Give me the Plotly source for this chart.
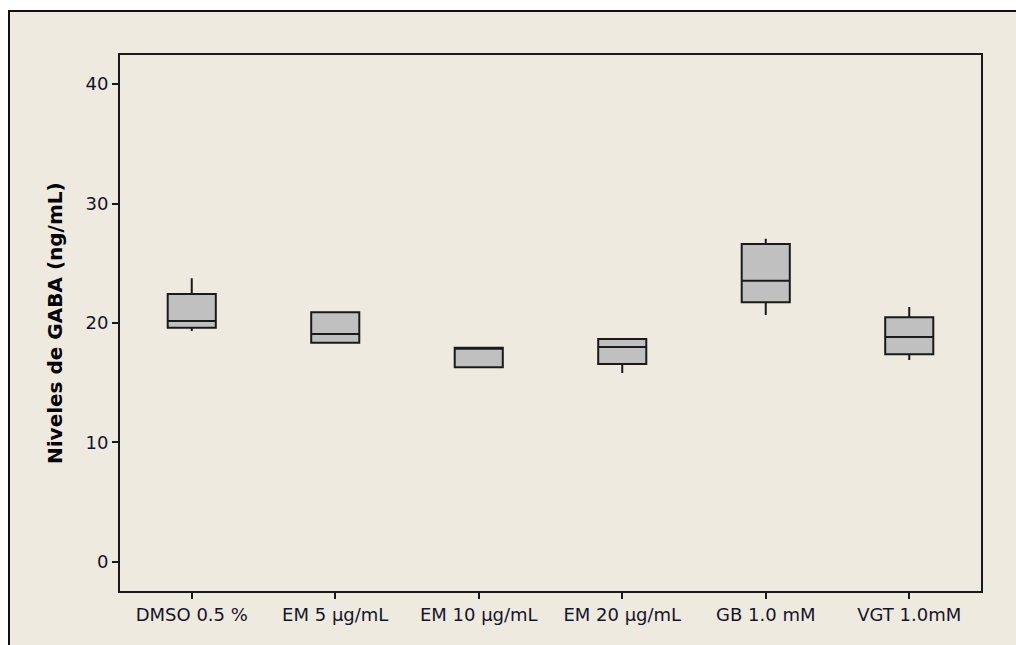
import plotly.graph_objects as go

categories = ["DMSO 0.5 %", "EM 5 µg/mL", "EM 10 µg/mL", "EM 20 µg/mL", "GB 1.0 mM", "VGT 1.0mM"]
lower_whisker = [19.33, 18.35, 16.29, 15.82, 20.67, 16.90]
q1_values = [19.61, 18.35, 16.29, 16.57, 21.73, 17.38]
median_values = [20.17, 19.08, 17.85, 17.99, 23.54, 18.83]
q3_values = [22.43, 20.90, 17.93, 18.66, 26.61, 20.48]
upper_whisker = [23.74, 20.90, 17.93, 18.66, 27.06, 21.34]
y_ticks = [0, 10, 20, 30, 40]

W, H = 1016, 645
ML, MR, MT, MB = 120, 35, 55, 54
PW, PH = W - ML - MR, H - MT - MB

def px_x(p):
    return (p - ML) / PW

def px_y(p):
    return (H - MB - p) / PH

fig = go.Figure()
fig.add_trace(go.Box(
    x=categories,
    q1=q1_values,
    median=median_values,
    q3=q3_values,
    lowerfence=lower_whisker,
    upperfence=upper_whisker,
    fillcolor="#c0c0c0",
    line=dict(color="#1a1a1a", width=2),
    whiskerwidth=0,
    width=0.335,
    boxpoints=False,
    showlegend=False,
))

font_main = "DejaVu Sans, Verdana, sans-serif"

fig.update_layout(
    width=W, height=H,
    margin=dict(l=ML, r=MR, t=MT, b=MB),
    paper_bgcolor="#ffffff",
    plot_bgcolor="#ffffff",
    font=dict(family=font_main, size=18, color="#15152a"),
    xaxis=dict(
        type="category",
        range=[-0.5, 5.5],
        showline=True, mirror=True, linecolor="#1a1a1a", linewidth=2,
        ticks="outside", ticklen=6, tickwidth=2, tickcolor="#1a1a1a",
        showgrid=False, zeroline=False,
        tickfont=dict(size=18),
    ),
    yaxis=dict(
        range=[-2.43, 42.43],
        tickvals=y_ticks,
        showline=True, mirror=True, linecolor="#1a1a1a", linewidth=2,
        ticks="outside", ticklen=6, tickwidth=2, tickcolor="#1a1a1a",
        showgrid=False, zeroline=False,
        tickfont=dict(size=18),
    ),
    shapes=[
        dict(type="rect", xref="paper", yref="paper", layer="below",
             x0=px_x(9), x1=px_x(1030), y0=px_y(660), y1=px_y(11),
             fillcolor="#eeeae0", line=dict(color="#111111", width=2)),
    ],
    annotations=[
        dict(text="<b>Niveles de GABA (ng/mL)</b>", xref="paper", yref="paper",
             x=px_x(55), y=0.5, textangle=-90, showarrow=False,
             xanchor="center", yanchor="middle",
             font=dict(family=font_main, size=20, color="#000000")),
    ],
)

fig.write_html("out.html")
